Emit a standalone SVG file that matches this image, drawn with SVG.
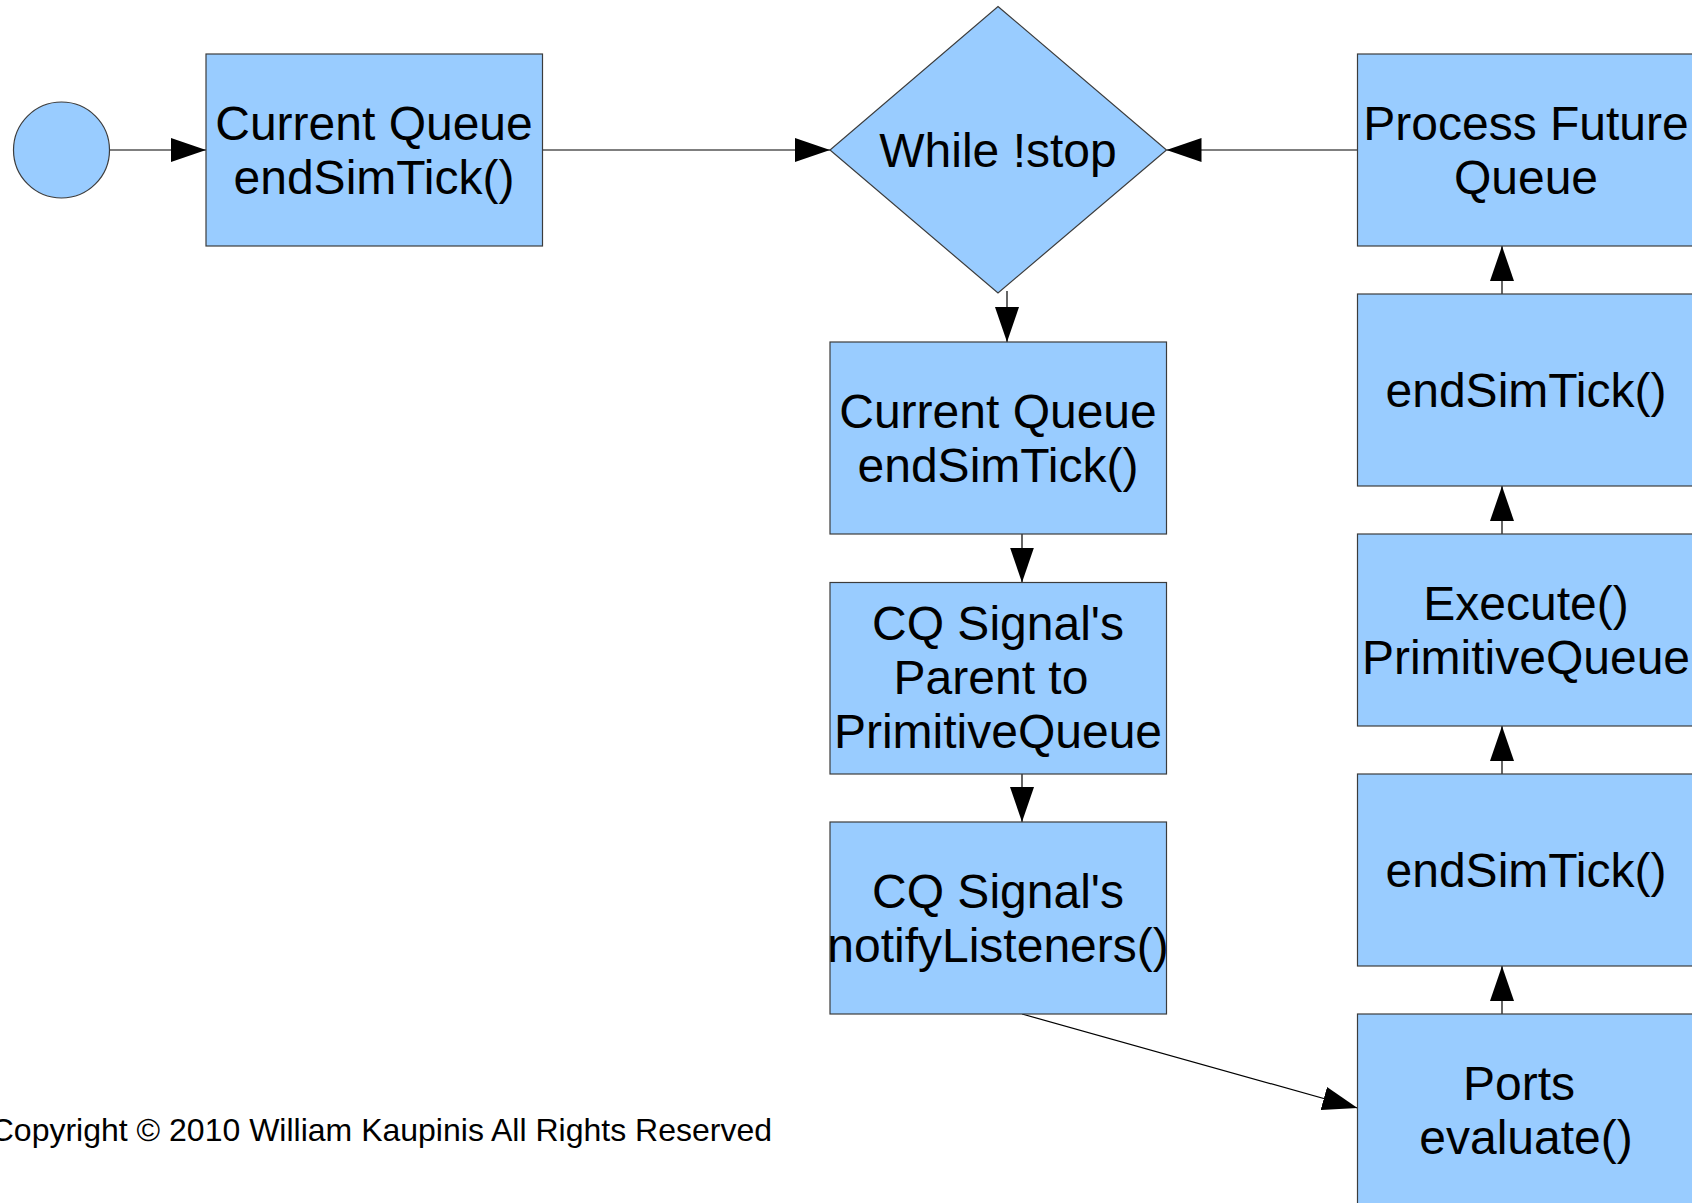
<svg xmlns="http://www.w3.org/2000/svg" width="1692" height="1203" viewBox="0 0 1692 1203">
<style>
.box{fill:#99ccff;stroke:#3c3c3c;stroke-width:1.2}
.lbl{font-family:"Liberation Sans",Arial,sans-serif;font-size:48px;fill:#000;text-anchor:middle}
.con{stroke:#000;stroke-width:1.2;fill:none;marker-end:url(#arr)}
.copy{font-family:"Liberation Sans",Arial,sans-serif;font-size:32px;fill:#000;text-anchor:end}
</style>
<defs>
<marker id="arr" markerUnits="userSpaceOnUse" markerWidth="36" markerHeight="24" refX="35" refY="12" orient="auto" viewBox="0 0 36 24">
<path d="M0,0 L35,12 L0,24 z" fill="#000"/>
</marker>
</defs>
<rect width="1692" height="1203" fill="#fff"/>
<g id="connectors">
<line class="con" x1="110" y1="150" x2="206" y2="150"/>
<line class="con" x1="542" y1="150" x2="830" y2="150"/>
<line class="con" x1="1357.5" y1="150" x2="1166.5" y2="150"/>
<line class="con" x1="1007" y1="291" x2="1007" y2="342"/>
<line class="con" x1="1022" y1="534" x2="1022" y2="582.5"/>
<line class="con" x1="1022" y1="774" x2="1022" y2="822"/>
<line class="con" x1="1022" y1="1014" x2="1357.5" y2="1108"/>
<line class="con" x1="1502" y1="1014" x2="1502" y2="966"/>
<line class="con" x1="1502" y1="774" x2="1502" y2="726"/>
<line class="con" x1="1502" y1="534" x2="1502" y2="486"/>
<line class="con" x1="1502" y1="294" x2="1502" y2="246"/>
</g>
<g id="start">
<circle class="box" cx="61.5" cy="150" r="48"/>
</g>
<g id="init">
<rect class="box" x="206" y="54" width="336.5" height="192"/>
<text class="lbl" x="374" y="140">Current Queue</text>
<text class="lbl" x="374" y="194">endSimTick()</text>
</g>
<g id="while">
<polygon class="box" points="998,6.5 1166.5,150 998,293 830,150"/>
<text class="lbl" x="998" y="167">While !stop</text>
</g>
<g id="cq-end">
<rect class="box" x="830" y="342" width="336.5" height="192"/>
<text class="lbl" x="998" y="428">Current Queue</text>
<text class="lbl" x="998" y="482">endSimTick()</text>
</g>
<g id="cq-parent">
<rect class="box" x="830" y="582.5" width="336.5" height="191.5"/>
<text class="lbl" x="998" y="640">CQ Signal's</text>
<text class="lbl" x="991" y="694">Parent to</text>
<text class="lbl" x="998" y="748">PrimitiveQueue</text>
</g>
<g id="cq-notify">
<rect class="box" x="830" y="822" width="336.5" height="192"/>
<text class="lbl" x="998" y="908">CQ Signal's</text>
<text class="lbl" x="998" y="962">notifyListeners()</text>
</g>
<g id="future">
<rect class="box" x="1357.5" y="54" width="336.5" height="192"/>
<text class="lbl" x="1526" y="140">Process Future</text>
<text class="lbl" x="1526" y="194">Queue</text>
</g>
<g id="end2">
<rect class="box" x="1357.5" y="294" width="336.5" height="192"/>
<text class="lbl" x="1526" y="407">endSimTick()</text>
</g>
<g id="execute">
<rect class="box" x="1357.5" y="534" width="336.5" height="192"/>
<text class="lbl" x="1526" y="620">Execute()</text>
<text class="lbl" x="1526" y="674">PrimitiveQueue</text>
</g>
<g id="end1">
<rect class="box" x="1357.5" y="774" width="336.5" height="192"/>
<text class="lbl" x="1526" y="887">endSimTick()</text>
</g>
<g id="ports">
<rect class="box" x="1357.5" y="1014" width="336.5" height="192"/>
<text class="lbl" x="1519" y="1100">Ports</text>
<text class="lbl" x="1526" y="1154">evaluate()</text>
</g>
<text class="copy" x="772" y="1141">Copyright © 2010 William Kaupinis All Rights Reserved</text>
</svg>
